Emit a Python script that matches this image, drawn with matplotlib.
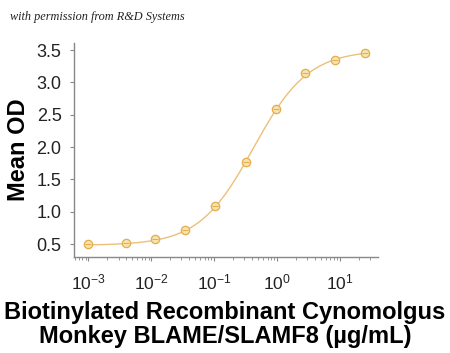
import numpy as np
import matplotlib
matplotlib.use("Agg")
import matplotlib.pyplot as plt
from matplotlib.ticker import LogLocator, FixedLocator

# Data
conc = [0.001, 0.0039, 0.0115, 0.0345, 0.104, 0.313, 0.94, 2.8, 8.3, 25.0]
mean_od = [0.495, 0.52, 0.577, 0.72, 1.09, 1.77, 2.59, 3.15, 3.35, 3.45]
err = [0.02, 0.02, 0.02, 0.02, 0.03, 0.03, 0.03, 0.02, 0.02, 0.02]

# 4-parameter logistic fit parameters
fit_bottom = 0.48
fit_top = 3.50
fit_ec50 = 0.42
fit_hill = 1.0

yticks = [0.5, 1.0, 1.5, 2.0, 2.5, 3.0, 3.5]
xticks = [1e-3, 1e-2, 1e-1, 1e0, 1e1]

plt.rcParams['font.family'] = ['Liberation Sans', 'DejaVu Sans']

fig = plt.figure(figsize=(4.5, 3.53), dpi=100)
ax = fig.add_axes([74/450, 1-257/353, (378-74)/450, (257-43)/353])

line_col = '#EBC07A'
edge_col = '#E2AE4C'
face_col = '#F7E2AE'

xs = np.logspace(np.log10(conc[0]), np.log10(conc[-1]), 300)
ys = fit_bottom + (fit_top - fit_bottom) / (1 + (fit_ec50 / xs) ** fit_hill)
ax.plot(xs, ys, color=line_col, lw=1.0, zorder=2)
ax.errorbar(conc, mean_od, yerr=err, fmt='o', ms=6, mfc=face_col, mec=edge_col,
            mew=0.9, ecolor=edge_col, elinewidth=0.7, capsize=2.5, zorder=3)
ax.plot(conc, mean_od, '_', color=edge_col, ms=5, mew=0.7, zorder=4)

ax.set_xscale('log')
ax.set_xlim(10**-3.23, 10**1.60)
ax.set_ylim(0.30, 3.61)
ax.set_yticks(yticks)
ax.set_yticklabels([f"{v:.1f}" for v in yticks])
ax.xaxis.set_major_locator(FixedLocator(xticks))
ax.xaxis.set_minor_locator(LogLocator(base=10, subs=np.arange(2, 10), numticks=20))

for s in ['top', 'right']:
    ax.spines[s].set_visible(False)
for s in ['left', 'bottom']:
    ax.spines[s].set_color('#888888')
    ax.spines[s].set_linewidth(1.0)

ax.tick_params(axis='y', which='major', length=3, width=0.8, color='#888888',
               labelsize=13, pad=6, labelcolor='#222222')
ax.tick_params(axis='x', which='major', length=3, width=0.8, color='#888888',
               labelsize=12.5, pad=8, labelcolor='#222222')
ax.tick_params(axis='x', which='minor', length=2, width=0.6, color='#888888')

ax.set_ylabel('Mean OD', fontsize=17, fontweight='bold')
ax.yaxis.set_label_coords(-(74 - 7) / 304, 0.5)
ax.yaxis.label.set_va('top')
fig.text(0.5, 1 - 348/353, 'Biotinylated Recombinant Cynomolgus\nMonkey BLAME/SLAMF8 (µg/mL)',
         ha='center', va='bottom', fontsize=17, fontweight='bold', linespacing=1.08)

fig.text(10/450, 1-17/353, 'with permission from R&D Systems', fontsize=8.8,
         family='Liberation Serif', style='italic', va='center', ha='left', color='#222222')

fig.savefig('out.png', dpi=100)
